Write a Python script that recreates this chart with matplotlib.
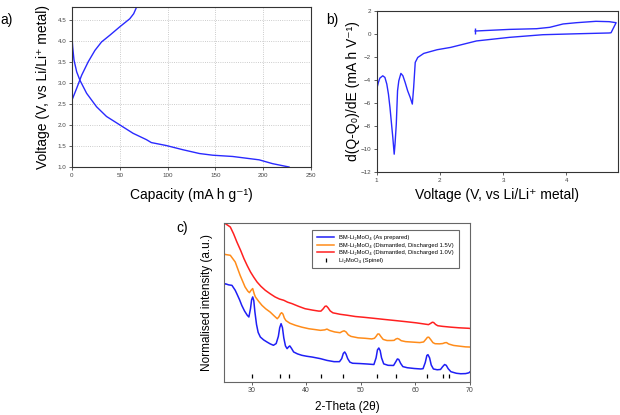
import matplotlib
matplotlib.use("Agg")
import matplotlib.pyplot as plt

plt.rcParams['font.family'] = ['Liberation Sans', 'DejaVu Sans']

# ---------------- Panel a: voltage profile ----------------
dis_cap = [0, 0.7, 2.1, 4.9, 8.3, 15.3, 25.7, 36.1, 50, 63.9, 77.8, 83, 98.6, 116, 133.3, 147.2, 168, 195.8, 209.7, 227]
dis_v = [4.10, 3.85, 3.54, 3.26, 3.06, 2.75, 2.43, 2.20, 2.00, 1.80, 1.65, 1.58, 1.51, 1.41, 1.32, 1.28, 1.25, 1.17, 1.08, 1.00]
chg_cap = [0, 4.9, 10.1, 17, 24, 30.9, 39.6, 50, 60.4, 64.5, 68]
chg_v = [2.59, 2.87, 3.18, 3.50, 3.77, 3.97, 4.13, 4.33, 4.52, 4.64, 4.82]

# ---------------- Panel b: differential capacity ----------------
dq_v = [1.0, 1.027, 1.05, 1.096, 1.13, 1.16, 1.186, 1.21, 1.24, 1.255, 1.277, 1.29, 1.31, 1.33, 1.35,
        1.383, 1.415, 1.45, 1.49, 1.53, 1.564, 1.585, 1.61, 1.65, 1.745, 1.957, 2.17, 2.58, 3.1, 3.63,
        4.16, 4.68, 4.71, 4.79, 4.68, 4.47, 4.16, 3.95, 3.74, 3.53, 3.1, 2.56]
dq_val = [-4.79, -4.21, -3.84, -3.64, -3.78, -4.36, -5.23, -6.38, -8.12, -8.98, -10.43, -9.56, -7.83, -4.94, -4.07,
          -3.43, -3.64, -4.21, -4.94, -5.51, -6.09, -4.65, -2.48, -2.05, -1.70, -1.38, -1.18, -0.62, -0.31, -0.08,
          0.0, 0.07, 0.09, 0.96, 1.05, 1.08, 0.96, 0.85, 0.56, 0.44, 0.38, 0.24]

# ---------------- Panel c: XRD ----------------
blue_tt = [25.0, 25.2, 25.8, 26.4, 27.0, 27.3, 27.8, 28.2, 28.7, 29.2, 29.5, 29.8, 30.0, 30.2, 30.4, 30.6, 30.9,
           31.2, 31.6, 32.2, 32.8, 33.4, 34.0, 34.5, 34.9, 35.15, 35.4, 35.65, 35.9, 36.2, 36.5, 36.8, 37.0, 37.3,
           37.7, 38.4, 39.2, 40.1, 41.1, 42.6, 43.8, 45.1, 46.1, 46.5, 46.8, 47.05, 47.3, 47.6, 48.0, 48.5, 49.9,
           51.3, 52.4, 52.8, 53.05, 53.3, 53.55, 53.8, 54.2, 55.0, 56.0, 56.4, 56.7, 56.95, 57.3, 57.7, 58.5, 59.8,
           61.0, 61.4, 61.8, 62.1, 62.3, 62.6, 62.9, 63.3, 64.0, 64.6, 65.0, 65.35, 65.65, 66.0, 66.5, 67.5, 68.3,
           69.2, 69.8, 70.0]
blue_int = [61.0, 61.6, 60.9, 60.6, 57.5, 55.3, 51.5, 48.0, 44.5, 41.8, 40.7, 46.0, 51.5, 53.3, 51.0, 44.0, 36.0,
            31.0, 28.1, 26.3, 25.0, 23.8, 22.9, 24.0, 28.5, 34.0, 36.5, 34.0, 27.5, 22.5, 20.8, 22.0, 22.5, 21.0,
            18.7, 17.5, 16.6, 16.0, 15.5, 14.5, 13.4, 12.6, 12.6, 14.5, 17.8, 18.7, 17.3, 14.5, 12.3, 11.6, 11.4,
            11.1, 10.8, 15.0, 20.0, 21.2, 19.5, 15.0, 11.2, 10.3, 10.2, 12.5, 14.3, 14.0, 11.5, 9.5, 8.8, 8.3,
            8.0, 8.2, 12.0, 16.5, 17.0, 15.0, 10.5, 8.0, 7.5, 7.7, 9.5, 10.8, 10.3, 8.2, 6.3, 5.3, 5.0,
            5.1, 5.6, 6.2]

orange_tt = [25.0, 25.2, 26.1, 27.0, 27.9, 28.8, 29.3, 29.6, 29.9, 30.2, 30.5, 30.7, 31.3, 31.9, 32.6, 33.4, 34.1,
             34.7, 35.0, 35.3, 35.5, 35.75, 36.0, 36.3, 37.0, 38.0, 39.2, 40.5, 41.6, 42.6, 43.4, 43.8, 44.3, 45.2,
             46.2, 46.6, 46.95, 47.3, 47.7, 48.2, 49.5, 50.8, 52.0, 52.5, 52.8, 53.1, 53.35, 53.7, 54.1, 54.8, 55.6,
             56.1, 56.4, 56.7, 57.0, 57.4, 58.2, 59.5, 60.8, 61.5, 61.9, 62.2, 62.45, 62.8, 63.2, 63.6, 64.4, 65.0,
             65.4, 65.7, 66.1, 67.0, 68.2, 69.2, 70.0]
orange_int = [80.3, 80.0, 79.5, 75.3, 66.9, 59.6, 57.0, 56.0, 57.5, 58.6, 55.0, 53.3, 50.5, 48.0, 45.8, 43.8, 41.5,
              39.6, 40.8, 42.8, 43.4, 42.5, 40.0, 38.4, 36.8, 35.5, 34.3, 33.3, 32.8, 32.3, 32.6, 33.1, 32.2, 31.3,
              30.8, 31.6, 32.0, 31.3, 29.5, 28.5, 27.6, 27.3, 26.9, 27.3, 28.5, 30.0, 30.0, 28.3, 26.6, 25.9, 25.9,
              26.0, 26.8, 27.2, 26.8, 25.8, 25.2, 24.9, 24.6, 25.0, 26.6, 27.9, 28.0, 26.5, 24.6, 23.9, 23.8, 24.0,
              24.5, 24.6, 23.7, 22.8, 22.3, 21.9, 21.8]

red_tt = [25.0, 25.2, 26.1, 26.7, 27.3, 28.0, 28.6, 29.2, 29.8, 30.4, 31.0, 31.7, 32.5, 33.4, 34.3, 35.1, 35.9,
          36.6, 37.4, 38.6, 39.8, 41.2, 42.3, 42.7, 43.1, 43.45, 43.7, 44.0, 44.4, 44.9, 45.5, 46.2, 47.5, 49.0,
          50.6, 52.3, 54.2, 56.2, 58.4, 60.2, 61.6, 62.4, 62.8, 63.1, 63.35, 63.7, 64.1, 65.0, 66.5, 68.0, 69.7,
          70.0]
red_int = [100.0, 99.4, 97.3, 93.0, 87.9, 82.5, 77.4, 73.0, 69.0, 65.7, 62.7, 60.0, 57.5, 55.3, 53.3, 52.0, 51.2,
           50.0, 49.1, 47.4, 45.9, 45.0, 44.4, 44.4, 45.8, 47.4, 47.6, 46.5, 44.5, 43.3, 42.9, 42.4, 41.8, 41.0,
           40.5, 39.9, 39.2, 38.5, 37.7, 37.0, 36.3, 35.9, 36.7, 37.4, 37.2, 36.0, 35.2, 34.8, 34.3, 33.9, 33.6,
           33.5]

spinel_tt = [30.0, 35.2, 36.85, 42.7, 46.8, 53.0, 56.45, 62.1, 65.1, 66.2]
spinel_level = [3.8] * len(spinel_tt)

legend_labels = ["BM-Li\u2082MoO\u2084 (As prepared)",
                 "BM-Li\u2082MoO\u2084 (Dismantled, Discharged 1.5V)",
                 "BM-Li\u2082MoO\u2084 (Dismantled, Discharged 1.0V)",
                 "Li\u2082MoO\u2084 (Spinel)"]

W, H = 620, 415
fig = plt.figure(figsize=(6.2, 4.15), dpi=100)


def rect(l, t, r, b):
    return [l / W, (H - b) / H, (r - l) / W, (b - t) / H]


spine_col = '#333333'
tick_col = '#444444'
line_blue = '#2a2aff'


def style(ax, size=4.5):
    for s in ax.spines.values():
        s.set_color(spine_col)
        s.set_linewidth(0.8)
    ax.tick_params(direction='out', length=2, width=0.6, pad=2, labelsize=size,
                   colors=tick_col)


# Panel a
axa = fig.add_axes(rect(72, 7, 311, 167))
axa.plot(dis_cap, dis_v, color=line_blue, lw=1.0)
axa.plot(chg_cap, chg_v, color=line_blue, lw=1.0)
axa.set_xlim(0, 250)
axa.set_ylim(1.0, 4.8)
axa.set_xticks([0, 50, 100, 150, 200, 250])
axa.set_yticks([1.0, 1.5, 2.0, 2.5, 3.0, 3.5, 4.0, 4.5])
axa.set_yticklabels(['1.0', '1.5', '2.0', '2.5', '3.0', '3.5', '4.0', '4.5'])
axa.grid(True, color='#bbbbbb', linestyle=':', linewidth=0.6)
style(axa)
axa.set_xlabel("Capacity (mA h g\u207b\u00b9)", fontsize=10, va='center')
axa.xaxis.set_label_coords(0.5, -0.175)
axa.set_ylabel("Voltage (V, vs Li/Li\u207a metal)", fontsize=10, va='center')
axa.yaxis.set_label_coords(-0.121, 0.5)

# Panel b
axb = fig.add_axes(rect(376.7, 10.7, 618, 172.3))
axb.plot(dq_v, dq_val, color=line_blue, lw=1.0)
axb.plot([dq_v[-1]], [dq_val[-1]], marker='|', color=line_blue, ms=4, mew=1.0)
axb.set_xlim(1, 4.82)
axb.set_ylim(-12, 2)
axb.set_xticks([1, 2, 3, 4])
axb.set_yticks([-12, -10, -8, -6, -4, -2, 0, 2])
style(axb)
axb.set_xlabel("Voltage (V, vs Li/Li\u207a metal)", fontsize=10, va='center')
axb.xaxis.set_label_coords(0.5, -0.14)
axb.set_ylabel("d(Q-Q\u2080)/dE (mA h V\u207b\u00b9)", fontsize=10, va='center')
axb.yaxis.set_label_coords(-0.098, 0.5)

# Panel c
axc = fig.add_axes(rect(224.3, 222.7, 470, 381.7))
axc.plot(blue_tt, blue_int, color='#1f1ff5', lw=1.1, label=legend_labels[0])
axc.plot(orange_tt, orange_int, color='#ff8c1a', lw=1.1, label=legend_labels[1])
axc.plot(red_tt, red_int, color='#ff2020', lw=1.1, label=legend_labels[2])
axc.plot(spinel_tt, spinel_level, linestyle='none', marker='|', color='black', ms=2.5, mew=0.9,
         label=legend_labels[3])
axc.set_xlim(25, 70)
axc.set_ylim(0, 100)
axc.set_xticks([30, 40, 50, 60, 70])
axc.set_yticks([])
style(axc, size=5)
for s in axc.spines.values():
    s.set_color('#666666')
leg = axc.legend(loc='upper right', bbox_to_anchor=(0.966, 0.975), fontsize=4.2, frameon=True,
                 fancybox=False, edgecolor='#444444', handlelength=2.9, borderpad=0.9,
                 labelspacing=0.45, handletextpad=0.8)
leg.get_frame().set_linewidth(0.8)
axc.set_xlabel("2-Theta (2\u03b8)", fontsize=8.5, va='center')
axc.xaxis.set_label_coords(0.5, -0.16)
axc.set_ylabel("Normalised intensity (a.u.)", fontsize=8.5, va='center')
axc.yaxis.set_label_coords(-0.07, 0.5)

# Panel letters
fig.text(7 / W, 1 - 20 / H, "a)", fontsize=10, ha='center', va='center')
fig.text(332 / W, 1 - 20 / H, "b)", fontsize=10, ha='center', va='center')
fig.text(182 / W, 1 - 228 / H, "c)", fontsize=10, ha='center', va='center')

fig.savefig("out.png", dpi=100)
